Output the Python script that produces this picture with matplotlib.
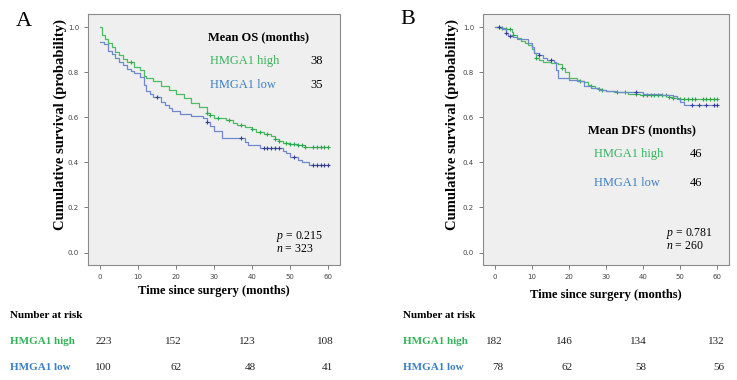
import numpy as np
import matplotlib
matplotlib.use("agg")
import matplotlib.pyplot as plt
from matplotlib.transforms import blended_transform_factory

# Panel A: overall survival
OS_HIGH_T = [0, 0.4, 1.2, 2, 3, 4, 5, 6, 7, 9, 10.5, 11.5, 12, 14, 16, 18, 20, 22, 24, 26, 28,
             29, 30, 33, 35, 36, 38, 40, 41, 43, 45, 46, 47, 48, 50, 52, 54, 55, 60]
OS_HIGH_S = [1.0, 0.965, 0.945, 0.93, 0.91, 0.89, 0.875, 0.86, 0.845, 0.825, 0.81, 0.785, 0.775,
             0.76, 0.74, 0.72, 0.705, 0.685, 0.665, 0.645, 0.62, 0.61, 0.597, 0.59, 0.575, 0.565,
             0.555, 0.548, 0.535, 0.525, 0.515, 0.505, 0.495, 0.488, 0.483, 0.476, 0.47, 0.467, 0.467]
OS_HIGH_CENS = [8, 28, 29, 31, 34, 37, 40, 42, 44, 46, 47, 49, 50, 51, 52, 53, 54, 56, 57, 58, 59, 60]

OS_LOW_T = [0, 1, 2, 3, 4, 5, 6, 7, 8, 9, 10.5, 11.5, 12, 13, 14, 16, 17, 18, 19, 21, 24, 27,
            28, 29, 30, 32, 38, 39, 42, 48, 49, 50, 52, 53, 55, 60]
OS_LOW_S = [0.935, 0.925, 0.895, 0.88, 0.865, 0.845, 0.83, 0.815, 0.805, 0.795, 0.78, 0.745,
            0.715, 0.705, 0.69, 0.67, 0.655, 0.64, 0.63, 0.615, 0.605, 0.595, 0.58, 0.56, 0.54,
            0.51, 0.49, 0.475, 0.465, 0.45, 0.44, 0.425, 0.41, 0.40, 0.39, 0.39]
OS_LOW_CENS = [15, 28, 37, 43, 44, 45, 46, 47, 51, 56, 57, 58, 59, 60]

# Panel B: disease-free survival
DFS_HIGH_T = [0, 2, 3, 4.5, 5, 6, 7, 8, 9, 10, 10.5, 11, 12, 13, 15, 17, 18, 19, 20, 22, 23, 24,
              25, 26, 27, 28, 29, 30, 32, 36, 39, 45, 47, 48, 50, 60]
DFS_HIGH_S = [1.0, 0.995, 0.99, 0.98, 0.965, 0.95, 0.94, 0.93, 0.92, 0.905, 0.885, 0.865, 0.855,
              0.845, 0.84, 0.835, 0.82, 0.80, 0.775, 0.765, 0.76, 0.755, 0.745, 0.74, 0.73, 0.725,
              0.72, 0.715, 0.71, 0.705, 0.70, 0.697, 0.692, 0.685, 0.68, 0.68]
DFS_HIGH_CENS = [1, 2, 3, 4, 5, 11, 18, 23, 26, 28, 29, 33, 35, 38, 40, 41, 42, 43, 44, 45, 46,
                 47, 48, 50, 51, 52, 53, 54, 56, 57, 58, 59, 60]

DFS_LOW_T = [0, 2, 3, 3.5, 5, 6, 9, 10, 10.5, 12, 13, 14, 16, 16.5, 17, 20, 22, 24, 26, 28, 30,
             33, 40, 45, 48, 49, 50, 51, 60]
DFS_LOW_S = [1.0, 0.99, 0.975, 0.96, 0.955, 0.945, 0.93, 0.91, 0.885, 0.875, 0.865, 0.855, 0.845,
             0.81, 0.775, 0.765, 0.76, 0.74, 0.73, 0.72, 0.715, 0.71, 0.705, 0.70, 0.695, 0.68,
             0.67, 0.655, 0.655]
DFS_LOW_CENS = [1, 3, 4, 12, 15, 38, 53, 55, 57, 59, 60]

RISK_TIMES = [0, 20, 40, 60]
OS_RISK_HIGH = [223, 152, 123, 108]
OS_RISK_LOW = [100, 62, 48, 41]
DFS_RISK_HIGH = [182, 146, 134, 132]
DFS_RISK_LOW = [78, 62, 58, 56]

GREEN = "#4dbd63"
GREEN_MK = "#2fa64c"
BLUE = "#6f89cf"
BLUE_MK = "#383d96"
GREEN_TXT = "#35b35a"
BLUE_TXT = "#3d7fc4"
SERIF = "Liberation Serif"

plt.rcParams["font.family"] = SERIF
plt.rcParams["mathtext.fontset"] = "custom"
plt.rcParams["mathtext.it"] = SERIF + ":italic"
plt.rcParams["mathtext.rm"] = SERIF


def step_value(t, s, x):
	idx = np.searchsorted(np.array(t), x, side="right") - 1
	return np.array(s)[idx]


def km_panel(ax, curves):
	for t, s, cens, col, mk in curves:
		ax.step(t, s, where="post", color=col, lw=0.9)
		ax.plot(cens, step_value(t, s, cens), ls="none", marker="+", ms=3.5,
			mew=0.8, color=mk)
	ax.set_facecolor("#efefef")
	ax.set_xlim(-3.2, 63.1)
	ax.set_ylim(-0.055, 1.058)
	ax.set_xticks([0, 10, 20, 30, 40, 50, 60])
	ax.set_yticks([0.0, 0.2, 0.4, 0.6, 0.8, 1.0])
	ax.set_yticklabels(["0.0", "0.2", "0.4", "0.6", "0.8", "1.0"])
	ax.tick_params(labelsize=5, colors="#666", length=3, width=0.6, labelcolor="#444")
	for lab in ax.get_xticklabels() + ax.get_yticklabels():
		lab.set_fontfamily("DejaVu Sans")
	for sp in ax.spines.values():
		sp.set_color("#8a8a8a")
		sp.set_linewidth(0.8)


fig = plt.figure(figsize=(7.37, 3.8), dpi=100)
axA = fig.add_axes([88 / 737, 1 - 265 / 380, 252 / 737, 251 / 380])
axB = fig.add_axes([483 / 737, 1 - 265 / 380, 246 / 737, 251 / 380])

km_panel(axA, [(OS_HIGH_T, OS_HIGH_S, OS_HIGH_CENS, GREEN, GREEN_MK),
               (OS_LOW_T, OS_LOW_S, OS_LOW_CENS, BLUE, BLUE_MK)])
km_panel(axB, [(DFS_HIGH_T, DFS_HIGH_S, DFS_HIGH_CENS, GREEN, GREEN_MK),
               (DFS_LOW_T, DFS_LOW_S, DFS_LOW_CENS, BLUE, BLUE_MK)])

# in-plot annotations
axA.text(28.4, 0.956, "Mean OS (months)", fontsize=9, fontweight="bold", va="center")
axA.text(28.9, 0.85, "HMGA1 high", fontsize=9, color=GREEN_TXT, va="center")
axA.text(55.3, 0.85, "38", fontsize=9, va="center")
axA.text(28.9, 0.743, "HMGA1 low", fontsize=9, color=BLUE_TXT, va="center")
axA.text(55.3, 0.743, "35", fontsize=9, va="center")
axA.text(46.3, 0.073, "$p$ = 0.215", fontsize=8.5, va="center")
axA.text(46.3, 0.016, "$n$ = 323", fontsize=8.5, va="center")

axB.text(25.0, 0.542, "Mean DFS (months)", fontsize=9, fontweight="bold", va="center")
axB.text(26.6, 0.436, "HMGA1 high", fontsize=9, color=GREEN_TXT, va="center")
axB.text(52.4, 0.436, "46", fontsize=9, va="center")
axB.text(26.6, 0.307, "HMGA1 low", fontsize=9, color=BLUE_TXT, va="center")
axB.text(52.4, 0.307, "46", fontsize=9, va="center")
axB.text(46.0, 0.086, "$p$ = 0.781", fontsize=8.5, va="center")
axB.text(46.0, 0.029, "$n$ = 260", fontsize=8.5, va="center")

# panel letters and axis labels
fig.text(24 / 737, 1 - 21 / 380, "A", fontsize=16, ha="center", va="center")
fig.text(408 / 737, 1 - 20 / 380, "B", fontsize=16, ha="center", va="center")
fig.text(60 / 737, 1 - 125 / 380, "Cumulative survival (probability)", fontsize=10.5,
	fontweight="bold", rotation=90, ha="center", va="center")
fig.text(452 / 737, 1 - 125 / 380, "Cumulative survival (probability)", fontsize=10.5,
	fontweight="bold", rotation=90, ha="center", va="center")
fig.text(214 / 737, 1 - 291 / 380, "Time since surgery (months)", fontsize=9,
	fontweight="bold", ha="center", va="center")
fig.text(606 / 737, 1 - 295 / 380, "Time since surgery (months)", fontsize=9,
	fontweight="bold", ha="center", va="center")

# number at risk tables
for ax, lab_x, offs, high, low in [(axA, 10, [3.0, 21.5, 41.0, 61.3], OS_RISK_HIGH, OS_RISK_LOW),
                                   (axB, 403, [2.2, 21.0, 40.9, 61.8], DFS_RISK_HIGH, DFS_RISK_LOW)]:
	fig.text(lab_x / 737, 1 - 316 / 380, "Number at risk", fontsize=8, fontweight="bold",
		va="center")
	fig.text(lab_x / 737, 1 - 342 / 380, "HMGA1 high", fontsize=8, fontweight="bold",
		color=GREEN_TXT, va="center")
	fig.text(lab_x / 737, 1 - 368 / 380, "HMGA1 low", fontsize=8, fontweight="bold",
		color=BLUE_TXT, va="center")
	tr = blended_transform_factory(ax.transData, fig.transFigure)
	for x, h, l in zip(offs, high, low):
		fig.text(x, 1 - 342 / 380, str(h), fontsize=8, ha="right", va="center",
			color="#222", transform=tr)
		fig.text(x, 1 - 368 / 380, str(l), fontsize=8, ha="right", va="center",
			color="#222", transform=tr)

plt.savefig("out.png", dpi=100)
